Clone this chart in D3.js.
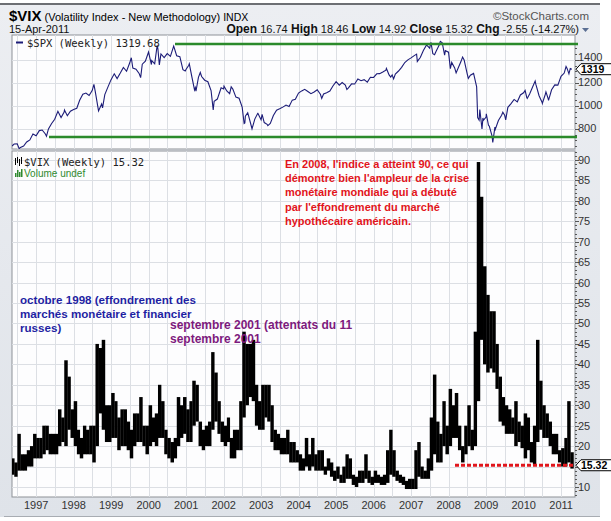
<!DOCTYPE html>
<html>
<head>
<meta charset="utf-8">
<script src="https://cdn.jsdelivr.net/npm/d3@7"></script>
<style>
body { margin: 0; background: #fff; }
svg { display: block; }
text { font-family: "Liberation Sans", Arial, sans-serif; }
.mono { font-family: "DejaVu Sans Mono", monospace; }
</style>
</head>
<body>
<script>
// S&P 500 month-end closes, May 1996 .. Mar 2011
const spxStart = [1996, 4];
const spxMonthly = [
  669, 671, 640, 652, 687, 705, 757, 741,
  786, 791, 757, 801, 848, 885, 954, 899, 947, 915, 955, 970,
  980, 1049, 1102, 1112, 1091, 1134, 1121, 957, 1017, 1099, 1164, 1229,
  1280, 1238, 1286, 1335, 1302, 1373, 1329, 1320, 1283, 1363, 1389, 1469,
  1394, 1366, 1499, 1452, 1421, 1455, 1431, 1518, 1437, 1429, 1315, 1320,
  1366, 1240, 1160, 1249, 1256, 1224, 1211, 1134, 1041, 1060, 1139, 1148,
  1130, 1107, 1147, 1077, 1067, 990, 912, 916, 815, 886, 936, 880,
  856, 841, 848, 917, 964, 975, 990, 1008, 996, 1051, 1058, 1112,
  1131, 1145, 1126, 1107, 1121, 1141, 1102, 1104, 1115, 1130, 1174, 1212,
  1181, 1204, 1181, 1157, 1192, 1191, 1234, 1220, 1229, 1207, 1250, 1248,
  1280, 1281, 1295, 1311, 1270, 1270, 1277, 1304, 1336, 1378, 1401, 1418,
  1438, 1407, 1421, 1482, 1531, 1503, 1455, 1474, 1527, 1549, 1481, 1468,
  1379, 1331, 1323, 1386, 1400, 1280, 1267, 1283, 1166, 969, 896, 903,
  826, 735, 798, 873, 919, 919, 988, 1021, 1057, 1036, 1096, 1115,
  1074, 1105, 1169, 1187, 1089, 1031, 1102, 1049, 1141, 1183, 1181, 1258,
  1286, 1327, 1326
];
// weekly closes at turning points
const spxWeekDates = [
  "1996-05-10", "1996-07-19", "1997-04-11", "1997-10-03", "1998-07-17", "1998-10-09",
  "1999-07-16", "1999-10-15", "2000-01-28", "2000-03-24", "2000-04-14", "2000-09-01",
  "2000-12-22", "2001-01-26", "2001-03-23", "2001-04-06", "2001-05-18", "2001-09-21",
  "2001-12-07", "2002-01-04", "2002-03-15", "2002-07-19", "2002-07-26", "2002-08-23",
  "2002-10-04", "2002-11-29", "2003-01-10", "2003-03-07", "2004-08-13", "2005-04-15",
  "2006-05-05", "2006-06-16", "2006-07-14", "2007-02-23", "2007-03-02", "2007-07-13",
  "2007-08-17", "2007-10-12", "2007-11-23", "2008-01-18", "2008-03-14", "2008-05-16",
  "2008-07-11", "2008-10-10", "2008-10-24", "2008-11-21", "2008-12-05", "2009-01-02",
  "2009-01-23", "2009-03-06", "2009-03-27", "2009-06-12", "2009-07-10", "2010-01-15",
  "2010-02-05", "2010-04-23", "2010-07-02", "2010-08-06", "2010-08-27", "2011-02-18",
  "2011-03-18", "2011-04-15"
];
const spxWeekValues = [
  652, 629, 737, 965, 1187, 984,
  1419, 1247, 1360, 1527, 1357, 1521,
  1305, 1354, 1140, 1128, 1291, 966,
  1158, 1172, 1166, 848, 853, 941,
  801, 936, 927, 829, 1065, 1143,
  1326, 1252, 1236, 1451, 1387, 1553,
  1446, 1562, 1441, 1325, 1288, 1425,
  1239, 899, 877, 800, 876, 932,
  832, 683, 816, 946, 879, 1136,
  1066, 1217, 1023, 1122, 1065, 1343,
  1279, 1319.68
];
const spxLevels = [1539, 730];

// VIX monthly range of the weekly bars, May 1996 .. Apr 2011
const vixStart = [1996, 4];
const vixHigh = [
  17, 16, 23, 18, 18, 19, 20, 23,
  22, 22, 25, 25, 23, 23, 23, 29, 27, 41, 37, 29,
  31, 24, 22, 25, 24, 25, 25, 45, 44, 46, 30, 30,
  33, 31, 27, 29, 29, 26, 24, 28, 28, 32, 25, 25,
  30, 27, 28, 35, 31, 24, 22, 21, 22, 32, 30, 32,
  29, 31, 36, 35, 26, 24, 25, 26, 43, 38, 31, 26,
  25, 27, 22, 24, 24, 31, 48, 45, 45, 46, 35, 31,
  35, 35, 35, 30, 24, 23, 22, 22, 24, 21, 21, 19,
  18, 17, 22, 18, 22, 18, 19, 19, 15, 17, 16, 14,
  15, 13, 15, 18, 17, 13, 12.5, 14, 14, 18, 14, 12.5,
  14, 13, 12.5, 13, 19, 24, 19, 14, 13, 12.5, 11.5, 12,
  12, 19, 21, 15, 14, 17, 27, 37.5, 26, 23, 31, 25,
  34, 30, 33, 25, 20, 25, 30, 24, 48, 89.5, 81, 64,
  57, 53, 53, 45, 37, 32, 30, 29, 27, 31, 26, 25,
  28, 27, 21, 25, 46, 36, 30, 28, 26, 23, 23, 19,
  19.5, 22, 31, 18.5
];
const vixLow = [
  13, 12.5, 14, 14, 14, 15, 15, 17,
  17, 17, 18, 19, 18, 18, 18, 20, 21, 20, 24, 22,
  20, 18, 17, 18, 18, 18, 16, 20, 28, 24, 21, 21,
  22, 22, 19, 20, 20, 19, 17, 20, 21, 21, 20, 18,
  20, 21, 20, 22, 22, 18, 17, 16, 17, 20, 22, 23,
  21, 21, 25, 26, 20, 19, 20, 20, 24, 26, 23, 21,
  20, 21, 17, 17, 19, 19, 27, 30, 32, 31, 25, 24,
  24, 27, 26, 21, 19, 19, 18, 18, 18, 16, 16, 16,
  14, 14, 15, 14, 15, 14, 14, 14, 13, 14, 12.5, 11.5,
  12, 11, 11, 12, 12, 10.5, 10, 11, 11, 12, 11, 10.5,
  11, 11, 10.5, 10.5, 11, 13, 12.5, 11.5, 11, 10.5, 9.5, 9.5,
  9.5, 9.5, 12.5, 12, 12, 12, 14, 18, 16, 16, 20, 18,
  20, 22, 22, 19, 16, 18, 20, 19, 20, 31, 46, 40,
  38, 39, 38, 34, 26, 25, 23, 23, 23, 20, 21, 19.5,
  17, 19, 16, 15.5, 21, 24, 22, 22, 20, 18, 18, 16,
  15, 15, 16, 14.5
];
const vixLast = 15.32;
const spxLast = 1319.68;

const spxTicks = [800, 1000, 1200, 1400];
const vixTicks = d3.range(10, 95, 5);
const years = d3.range(1997, 2012);

const W = 611, H = 521;
const left = 12, right = 575;
const top1 = 35, bot1 = 149, top2 = 151, bot2 = 497;

const svg = d3.select("body").append("svg").attr("width", W).attr("height", H);

const defs = svg.append("defs");
const grad = defs.append("linearGradient").attr("id", "bg").attr("x1", 0).attr("y1", 0).attr("x2", 0).attr("y2", 1);
grad.append("stop").attr("offset", 0).attr("stop-color", "#eceef2");
grad.append("stop").attr("offset", 1).attr("stop-color", "#dfe3e9");
defs.append("clipPath").attr("id", "c1").append("rect")
  .attr("x", left).attr("y", top1).attr("width", right - left).attr("height", bot1 - top1);
defs.append("clipPath").attr("id", "c2").append("rect")
  .attr("x", left).attr("y", top2).attr("width", right - left).attr("height", bot2 - top2);

svg.append("rect").attr("x", 0).attr("y", 4).attr("width", 600).attr("height", 513).attr("fill", "url(#bg)");
svg.append("rect").attr("x", 0).attr("y", 3).attr("width", 600).attr("height", 2).attr("fill", "#6d6f73");
svg.append("rect").attr("x", 4).attr("y", 516).attr("width", 596).attr("height", 1).attr("fill", "#a8acb2");

const x = d3.scaleTime()
  .domain([new Date(1996, 4, 10), new Date(2011, 4, 16)])
  .range([left, right]);
const yS = d3.scaleLinear().domain([626, 1617]).range([bot1, top1]);
const yV = d3.scaleLinear().domain([7.55, 92.2]).range([bot2, top2]);

// panels
[[top1, bot1], [top2, bot2]].forEach(([t, b]) => {
  svg.append("rect").attr("x", left).attr("y", t).attr("width", right - left).attr("height", b - t)
    .attr("fill", "#fdfdfe").attr("stroke", "#8d9197").attr("stroke-width", 1);
});

const halfYears = x.ticks(d3.timeMonth.every(6)).filter(d => x(d) > left + 1 && x(d) < right - 1);
const grid = svg.append("g").attr("stroke", "#dcdfe4").attr("stroke-width", 1);
halfYears.forEach(d => {
  const gx = Math.round(x(d)) + 0.5;
  grid.append("line").attr("x1", gx).attr("x2", gx).attr("y1", top1).attr("y2", bot1);
  grid.append("line").attr("x1", gx).attr("x2", gx).attr("y1", top2).attr("y2", bot2);
});
spxTicks.forEach(v => {
  const gy = Math.round(yS(v)) + 0.5;
  grid.append("line").attr("x1", left).attr("x2", right).attr("y1", gy).attr("y2", gy);
});
vixTicks.forEach(v => {
  const gy = Math.round(yV(v)) + 0.5;
  grid.append("line").attr("x1", left).attr("x2", right).attr("y1", gy).attr("y2", gy);
});

// right axes
const ax = svg.append("g").attr("stroke", "#555").attr("stroke-width", 1);
d3.range(650, 1600, 50).forEach(v => {
  const ty = Math.round(yS(v)) + 0.5;
  ax.append("line").attr("x1", right).attr("x2", right + (v % 200 === 0 ? 4 : 2)).attr("y1", ty).attr("y2", ty);
});
d3.range(8, 93, 1).forEach(v => {
  const ty = Math.round(yV(v)) + 0.5;
  ax.append("line").attr("x1", right).attr("x2", right + (v % 5 === 0 ? 4 : 2)).attr("y1", ty).attr("y2", ty);
});
// the 1400 label sits just above the last-value badge
svg.append("g").selectAll("text").data(spxTicks).join("text")
  .attr("x", right + 3).attr("y", d => yS(d) + (d === 1400 ? 1.5 : 3.5))
  .attr("font-size", 11).attr("fill", "#333").text(d => d);
svg.append("g").selectAll("text").data(vixTicks.filter(v => v !== 15)).join("text")
  .attr("x", right + 3).attr("y", d => yV(d) + 4)
  .attr("font-size", 11).attr("fill", "#333").text(d => d);

svg.append("g").selectAll("text").data(years).join("text")
  .attr("x", d => x(new Date(d, 0, 1))).attr("y", 509)
  .attr("text-anchor", "middle").attr("font-size", 11).attr("fill", "#333").text(d => d);

// SPX line
const parse = d3.timeParse("%Y-%m-%d");
const spx = spxMonthly.map((v, i) => ({ date: new Date(spxStart[0], spxStart[1] + i + 1, 0), value: v }))
  .concat(spxWeekDates.map((d, i) => ({ date: parse(d), value: spxWeekValues[i] })))
  .sort((a, b) => a.date - b.date);

const g1 = svg.append("g").attr("clip-path", "url(#c1)");
g1.append("path").datum(spx)
  .attr("fill", "none").attr("stroke", "#1c1c78").attr("stroke-width", 1.1)
  .attr("d", d3.line().x(d => x(d.date)).y(d => yS(d.value)));

svg.append("line").attr("x1", 175).attr("x2", 578)
  .attr("y1", yS(spxLevels[0])).attr("y2", yS(spxLevels[0]))
  .attr("stroke", "#2b8a2b").attr("stroke-width", 2.6);
svg.append("line").attr("x1", 49).attr("x2", 577)
  .attr("y1", yS(spxLevels[1])).attr("y2", yS(spxLevels[1]))
  .attr("stroke", "#2b8a2b").attr("stroke-width", 2.6);

// VIX bars, one per month, touching so they read as a dense band
const g2 = svg.append("g").attr("clip-path", "url(#c2)");
const vix = vixHigh.map((h, i) => ({
  from: new Date(vixStart[0], vixStart[1] + i, 1),
  to: new Date(vixStart[0], vixStart[1] + i + 1, 1),
  high: h, low: vixLow[i]
}));
g2.selectAll("rect").data(vix).join("rect")
  .attr("x", d => x(d.from)).attr("width", d => x(d.to) - x(d.from) + 0.3)
  .attr("y", d => yV(d.high)).attr("height", d => yV(d.low) - yV(d.high))
  .attr("fill", "#000");

svg.append("line").attr("x1", 455).attr("x2", 574)
  .attr("y1", yV(vixLast)).attr("y2", yV(vixLast))
  .attr("stroke", "#e0161c").attr("stroke-width", 3).attr("stroke-dasharray", "4,2");

// last-value badges
function badge(yy, label) {
  svg.append("path")
    .attr("d", `M${right + 1},${yy} L${right + 6},${yy - 5.5} L${W + 2},${yy - 5.5} L${W + 2},${yy + 5.5} L${right + 6},${yy + 5.5} Z`)
    .attr("fill", "#fff").attr("stroke", "#000").attr("stroke-width", 1);
  svg.append("text").attr("x", right + 6).attr("y", yy + 4)
    .attr("font-size", 10.5).attr("font-weight", "bold").attr("fill", "#000").text(label);
}
badge(yS(spxLast), "1319");
badge(yV(vixLast), "15.32");

// header
const h1 = svg.append("text").attr("x", 9).attr("y", 21).attr("fill", "#000");
h1.append("tspan").attr("font-size", 15).attr("font-weight", "bold").text("$VIX");
h1.append("tspan").attr("font-size", 11).text(" (Volatility Index - New Methodology) ");
h1.append("tspan").attr("font-size", 10.5).text("INDX");
svg.append("text").attr("x", 589).attr("y", 20).attr("text-anchor", "end")
  .attr("font-size", 11.5).attr("fill", "#555").text("\u00a9StockCharts.com");
svg.append("text").attr("x", 9).attr("y", 33).attr("font-size", 11).attr("fill", "#111").text("15-Apr-2011");
const h2 = svg.append("text").attr("x", 579).attr("y", 33).attr("text-anchor", "end").attr("fill", "#111");
[["Open", "16.74"], ["High", "18.46"], ["Low", "14.92"], ["Close", "15.32"], ["Chg", "-2.55 (-14.27%)"]].forEach(([k, v], i) => {
  h2.append("tspan").attr("font-size", 12).attr("font-weight", "bold").text((i ? "  " : "") + k);
  h2.append("tspan").attr("font-size", 11).text(" " + v);
});
svg.append("path").attr("d", "M582,28 L589,28 L585.5,32 Z").attr("fill", "#5b6f93");

// legends
svg.append("line").attr("x1", 16).attr("x2", 23).attr("y1", 42.5).attr("y2", 42.5).attr("stroke", "#1c1c78").attr("stroke-width", 2);
svg.append("text").attr("class", "mono").attr("x", 27).attr("y", 46.5).attr("font-size", 10.5).attr("fill", "#222")
  .text("$SPX (Weekly) 1319.68");
const icon = svg.append("g").attr("stroke", "#000").attr("stroke-width", 1);
[[15.5, 158, 165], [17.5, 157, 163], [19.5, 159, 166], [21.5, 157, 164]].forEach(([ix, a, b]) => {
  icon.append("line").attr("x1", ix).attr("x2", ix).attr("y1", a).attr("y2", b);
});
svg.append("text").attr("class", "mono").attr("x", 24).attr("y", 166).attr("font-size", 10.5).attr("fill", "#222")
  .text("$VIX (Weekly) 15.32");
[[15, 173], [17, 170], [19, 172], [21, 169]].forEach(([ix, t]) => {
  svg.append("rect").attr("x", ix).attr("y", t).attr("width", 1.5).attr("height", 177 - t).attr("fill", "#2f8a2f");
});
svg.append("text").attr("x", 24).attr("y", 177).attr("font-size", 10).attr("fill", "#2f8a2f").text("Volume undef");

// annotations
function note(lines, x0, y0, dy, size, color) {
  const t = svg.append("text").attr("font-size", size).attr("font-weight", "bold").attr("fill", color);
  lines.forEach((s, i) => t.append("tspan").attr("x", x0).attr("y", y0 + i * dy).text(s));
}
note(["En 2008, l'indice a atteint 90, ce qui",
      "démontre bien l'ampleur de la crise",
      "monétaire mondiale qui a débuté",
      "par l'effondrement du marché",
      "hypothécaire américain."], 285, 168, 14.2, 11, "#e2141b");
note(["octobre 1998 (effondrement des",
      "marchés monétaire et financier",
      "russes)"], 20, 304, 14, 11.6, "#1f1fa3");
note(["septembre 2001 (attentats du 11",
      "septembre 2001"], 170, 329, 14, 12, "#7d1a7d");
</script>
</body>
</html>
